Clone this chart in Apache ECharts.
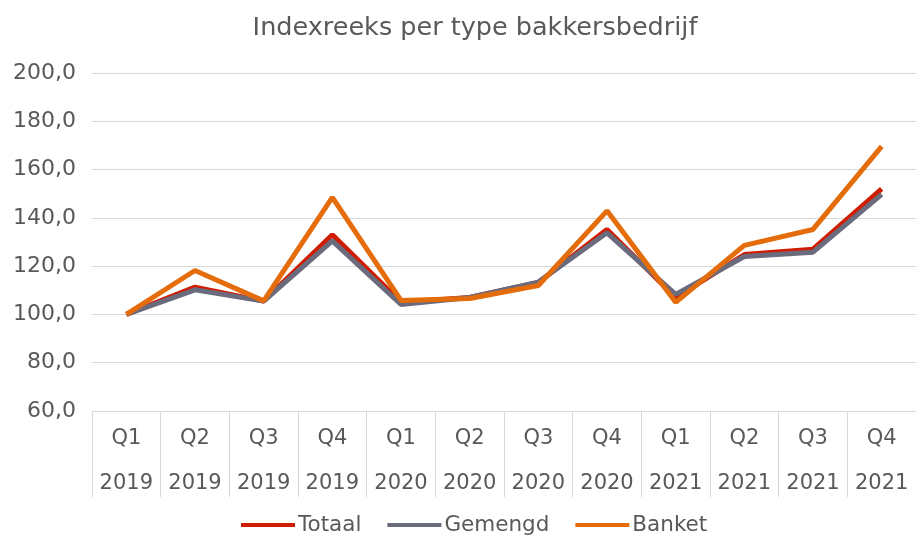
<!DOCTYPE html>
<html>
<head>
<meta charset="utf-8">
<script src="https://cdn.jsdelivr.net/npm/echarts@6/dist/echarts.min.js"></script>
<style>html,body{margin:0;padding:0;background:#fff}#c{width:916px;height:542px}</style>
</head>
<body>
<div id="c"></div>
<script>
const quarters = ['Q1','Q2','Q3','Q4','Q1','Q2','Q3','Q4','Q1','Q2','Q3','Q4'];
const years = ['2019','2019','2019','2019','2020','2020','2020','2020','2021','2021','2021','2021'];
const totaal = [100, 111.3, 105.5, 133.0, 105.0, 107.0, 113.2, 135.2, 107.0, 124.8, 127.0, 152.0];
const gemengd = [100, 110.2, 105.5, 130.5, 104.1, 107.0, 113.4, 133.8, 108.3, 124.0, 125.8, 149.7];
const banket = [100, 118.2, 105.6, 148.5, 105.8, 106.6, 112.0, 142.9, 105.0, 128.6, 135.2, 169.6];

const cats = quarters.map((q, i) => q + '\n' + years[i]);
const chart = echarts.init(document.getElementById('c'), null, {renderer: 'canvas'});
const font = '"DejaVu Sans"';
chart.setOption({
  animation: false,
  title: {
    text: 'Indexreeks per type bakkersbedrijf',
    left: 470, top: 10, textAlign: 'center',
    textStyle: {fontFamily: font, fontSize: 25.5, fontWeight: 'normal', color: '#595959'}
  },
  legend: {
    bottom: 1, left: 236,
    itemWidth: 54, itemHeight: 4, itemGap: 26, icon: 'rect',
    textStyle: {fontFamily: font, fontSize: 21.5, color: '#595959', padding: [0, 0, 0, -2]},
    data: ['Totaal', 'Gemengd', 'Banket']
  },
  grid: {left: 92, width: 828, top: 73, height: 338, containLabel: false},
  xAxis: {
    type: 'category', data: cats, boundaryGap: true,
    axisLine: {show: true, lineStyle: {color: '#d9d9d9', width: 1}},
    axisTick: {show: true, interval: 0, length: 86, lineStyle: {color: '#d9d9d9'}},
    axisLabel: {interval: 0, margin: 5, fontFamily: font, fontSize: 21, color: '#595959', lineHeight: 45}
  },
  yAxis: {
    type: 'value', min: 60, max: 200, interval: 20,
    axisLine: {show: false}, axisTick: {show: false},
    splitLine: {lineStyle: {color: '#d9d9d9', width: 1}},
    axisLabel: {margin: 16, fontFamily: font, fontSize: 22, color: '#595959',
      formatter: v => v.toFixed(1).replace('.', ',')}
  },
  series: [
    {name: 'Totaal', type: 'line', data: totaal, symbol: 'none', color: '#d01c00', lineStyle: {width: 5, color: '#d01c00'}},
    {name: 'Gemengd', type: 'line', data: gemengd, symbol: 'none', color: '#6b6b7e', lineStyle: {width: 5, color: '#6b6b7e'}},
    {name: 'Banket', type: 'line', data: banket, symbol: 'none', color: '#e46c0a', lineStyle: {width: 5, color: '#e46c0a'}}
  ]
});
</script>
</body>
</html>
